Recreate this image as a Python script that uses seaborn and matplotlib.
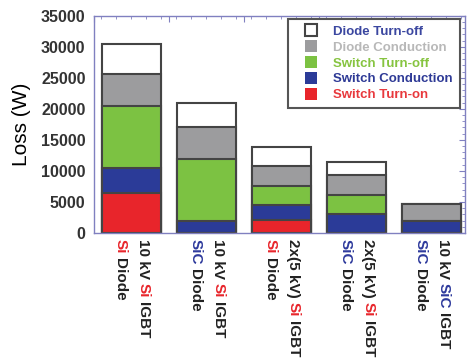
import pandas as pd
import matplotlib.pyplot as plt
import seaborn as sns
from matplotlib.lines import Line2D
from matplotlib.ticker import MultipleLocator

# converter configurations (IGBT rating / IGBT material / diode material)
igbt_rating = ["10 kV", "10 kV", "2x(5 kV)", "2x(5 kV)", "10 kV"]
igbt_material = ["Si", "Si", "Si", "Si", "SiC"]
diode_material = ["Si", "SiC", "Si", "SiC", "SiC"]
configs = [f"{r} {m} IGBT / {d} Diode" for r, m, d in zip(igbt_rating, igbt_material, diode_material)]

# loss components (W), bottom to top
switch_turn_on = [6500, 0, 2100, 0, 0]
switch_conduction = [4000, 1900, 2400, 3100, 1900]
switch_turn_off = [10000, 10000, 3100, 3000, 0]
diode_conduction = [5100, 5200, 3200, 3300, 2800]
diode_turn_off = [4800, 3900, 3100, 2100, 0]

layers = ["Switch Turn-on", "Switch Conduction", "Switch Turn-off", "Diode Conduction", "Diode Turn-off"]
df = pd.DataFrame({
    "config": configs,
    "Switch Turn-on": switch_turn_on,
    "Switch Conduction": switch_conduction,
    "Switch Turn-off": switch_turn_off,
    "Diode Conduction": diode_conduction,
    "Diode Turn-off": diode_turn_off,
})
cum = df[layers].cumsum(axis=1)

fill = {"Switch Turn-on": "#e8252b", "Switch Conduction": "#2b3b98",
        "Switch Turn-off": "#7cc242", "Diode Conduction": "#9c9c9e",
        "Diode Turn-off": "white"}
text_col = {"Switch Turn-on": "#e8393d", "Switch Conduction": "#2e3a96",
            "Switch Turn-off": "#86c440", "Diode Conduction": "#b8b8b8",
            "Diode Turn-off": "#3b47a0"}
mat_col = {"Si": "#e8252b", "SiC": "#2e3a9c"}
spine_col = "#8080c0"
edge = "#444444"

sns.set_style("white")
plt.rcParams["font.family"] = ["Liberation Sans", "DejaVu Sans"]

fig = plt.figure(figsize=(4.67, 3.6), dpi=100)
ax = fig.add_axes([0.201, 0.353, 0.795, 0.603])

# stacked bars: draw cumulative totals from the top layer down
for layer in reversed(layers):
    sns.barplot(x=df["config"], y=cum[layer], color=fill[layer], saturation=1,
                width=0.79, edgecolor=edge, linewidth=1.5, errorbar=None, ax=ax)

ax.set_xlim(-0.5, 4.45)
ax.set_ylim(0, 35000)
ax.set_xlabel("")
ax.set_ylabel("Loss (W)", fontsize=15, color="black")
ax.yaxis.set_label_coords(-0.17, 0.5)

ax.set_xticks([-0.5, 0.5, 1.5, 2.5, 3.5])
ax.set_xticklabels([])
ax.xaxis.set_minor_locator(MultipleLocator(0.2))
ax.yaxis.set_major_locator(MultipleLocator(5000))
ax.yaxis.set_minor_locator(MultipleLocator(1000))
ax.tick_params(which="both", direction="in", top=True, right=True, color=spine_col)
ax.tick_params(which="major", length=4)
ax.tick_params(which="minor", length=2)
ax.tick_params(axis="y", labelsize=11.5, labelcolor="#333333", pad=6)
for t in ax.get_yticklabels():
    t.set_fontweight("bold")
for s in ax.spines.values():
    s.set_color(spine_col)
    s.set_linewidth(1)

# two-line, multi-coloured category labels, rotated to read downwards
def piece_chain(i, dx, parts):
    prev = None
    for txt, col in parts:
        kw = dict(rotation=-90, ha="center", va="top", fontsize=11,
                  fontweight="bold", color=col, annotation_clip=False,
                  textcoords="offset points")
        if prev is None:
            prev = ax.annotate(txt, xy=(i, 0), xycoords=("data", "axes fraction"),
                               xytext=(dx, -4.5), **kw)
        else:
            prev = ax.annotate(txt, xy=(0.5, 0), xycoords=prev,
                               xytext=(0, -3), **kw)

for i in range(len(configs)):
    piece_chain(i, 8.6, [(igbt_rating[i], "#222222"),
                         (igbt_material[i], mat_col[igbt_material[i]]),
                         ("IGBT", "#222222")])
    piece_chain(i, -8.0, [(diode_material[i], mat_col[diode_material[i]]),
                          ("Diode", "#222222")])

# legend
order = ["Diode Turn-off", "Diode Conduction", "Switch Turn-off", "Switch Conduction", "Switch Turn-on"]
handles = [Line2D([], [], marker="s", linestyle="none", markersize=8,
                  markerfacecolor=fill[k],
                  markeredgecolor=edge if k == "Diode Turn-off" else fill[k],
                  markeredgewidth=1.5 if k == "Diode Turn-off" else 0)
           for k in order]
leg = ax.legend(handles, order, loc="upper right", bbox_to_anchor=(0.985, 0.985),
                borderaxespad=0, fancybox=False, framealpha=1, edgecolor="#555555",
                prop={"weight": "bold", "size": 9.5}, handlelength=2.4,
                labelspacing=0.27, handletextpad=0.5, borderpad=0.5)
leg.get_frame().set_linewidth(1.5)
for t, k in zip(leg.get_texts(), order):
    t.set_color(text_col[k])

fig.savefig("out.png", dpi=100)
